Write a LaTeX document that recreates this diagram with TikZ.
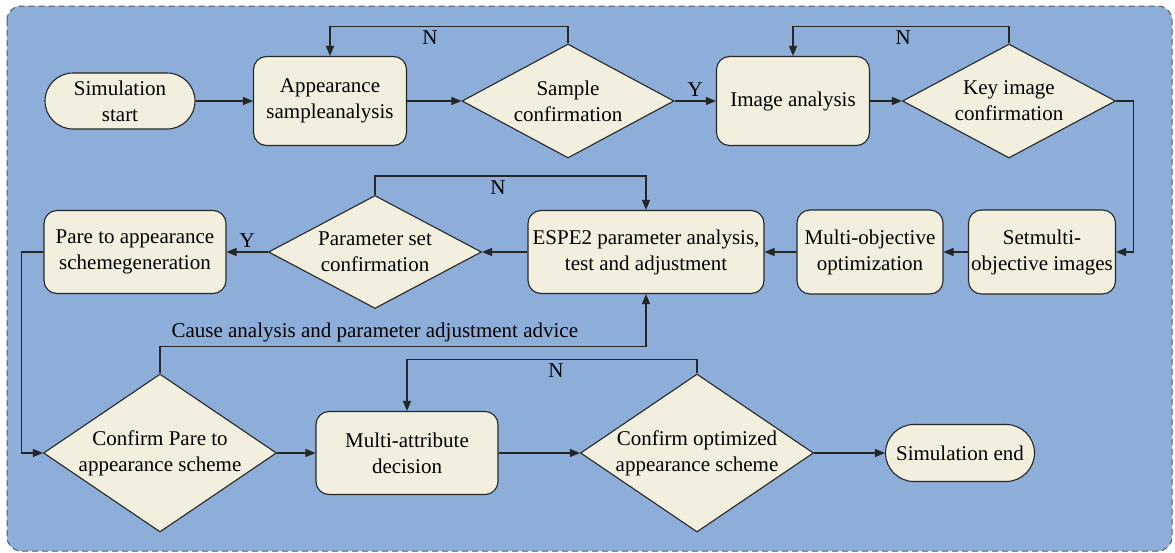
\documentclass[tikz,border=0pt]{standalone}
\usepackage{fontspec}
\setmainfont{Liberation Serif}
\usetikzlibrary{shapes.geometric,shapes.misc,arrows.meta}

\definecolor{panelblue}{HTML}{8CAED9}
\definecolor{boxcream}{HTML}{F3EFDE}
\definecolor{edgegray}{HTML}{262626}

\tikzset{
	panel/.style={draw=black!65, fill=panelblue, dash pattern=on 6pt off 4pt, line width=1pt, rounded corners=14pt},
	process/.style={draw=edgegray, fill=boxcream, line width=1.1pt, rounded corners=13pt, align=center, inner sep=2pt},
	terminal/.style={draw=edgegray, fill=boxcream, line width=1.1pt, rounded rectangle, align=center, inner sep=2pt},
	decision/.style={draw=edgegray, fill=boxcream, line width=1.1pt, diamond, aspect=2, align=center, inner sep=-14pt},
	arr/.style={draw=edgegray, line width=1.1pt, -{Triangle[length=10pt,width=8pt]}},
	tag/.style={inner sep=4pt}
}

\begin{document}
\begin{tikzpicture}[x=1pt,y=-1pt,font=\fontsize{21}{26}\selectfont]

	\useasboundingbox (0,0) rectangle (1175,552);
	\draw[panel] (7,6) rectangle (1172,551);

	% first row
	\node[terminal, minimum width=154pt, minimum height=56pt] (start) at (120,101) {Simulation\\start};
	\node[process, minimum width=153pt, minimum height=89pt] (sample) at (330,101) {Appearance\\sampleanalysis};
	\node[decision, minimum width=212pt, minimum height=114pt] (sconf) at (568,101) {Sample\\confirmation};
	\node[process, minimum width=153pt, minimum height=89pt] (image) at (793,101) {Image analysis};
	\node[decision, minimum width=213pt, minimum height=114pt] (kconf) at (1009,101) {Key image\\confirmation};

	% second row
	\node[process, minimum width=147pt, minimum height=84pt] (setm) at (1042,252) {Setmulti-\\objective images};
	\node[process, minimum width=146pt, minimum height=84pt] (mopt) at (870,252) {Multi-objective\\optimization};
	\node[process, minimum width=236pt, minimum height=83pt] (espe) at (646,252) {ESPE2 parameter analysis,\\test and adjustment};
	\node[decision, minimum width=213pt, minimum height=113pt] (pconf) at (375,252) {Parameter set\\confirmation};
	\node[process, minimum width=182pt, minimum height=83pt] (pare) at (135,252) {Pare to appearance\\schemegeneration};

	% third row
	\node[decision, minimum width=233pt, minimum height=158pt] (cpare) at (160,453) {Confirm Pare to\\appearance scheme};
	\node[process, minimum width=182pt, minimum height=83pt] (mattr) at (407,453) {Multi-attribute\\decision};
	\node[decision, minimum width=233pt, minimum height=158pt] (copt) at (697,453) {Confirm optimized\\appearance scheme};
	\node[terminal, minimum width=153pt, minimum height=57pt] (end) at (960,453) {Simulation end};

	\draw[arr] (start.east) -- (sample.west);
	\draw[arr] (sample.east) -- (sconf.west);
	\draw[arr] (sconf.east) -- node[tag, above] {Y} (image.west);
	\draw[arr] (sconf.north) -- ++(0,-17) -| node[tag, pos=.29, below] {N} (sample.north);
	\draw[arr] (image.east) -- (kconf.west);
	\draw[arr] (kconf.north) -- ++(0,-17) -| node[tag, pos=.245, below] {N} (image.north);
	\draw[arr] (kconf.east) -- ++(17,0) |- (setm.east);

	\draw[arr] (setm.west) -- (mopt.east);
	\draw[arr] (mopt.west) -- (espe.east);
	\draw[arr] (espe.west) -- (pconf.east);
	\draw[arr] (pconf.west) -- node[tag, above] {Y} (pare.east);
	\draw[arr] (pconf.north) -- ++(0,-19) -| node[tag, pos=.227, below] {N} (espe.north);
	\draw[arr] (pare.west) -- ++(-22,0) |- (cpare.west);

	\draw[arr] (cpare.north) -- ++(0,-27) -| node[tag, pos=.221, above] {Cause analysis and parameter adjustment advice} (espe.south);
	\draw[arr] (cpare.east) -- (mattr.west);
	\draw[arr] (mattr.east) -- (copt.west);
	\draw[arr] (copt.north) -- ++(0,-14) -| node[tag, pos=.243, below] {N} (mattr.north);
	\draw[arr] (copt.east) -- (end.west);
\end{tikzpicture}
\end{document}
